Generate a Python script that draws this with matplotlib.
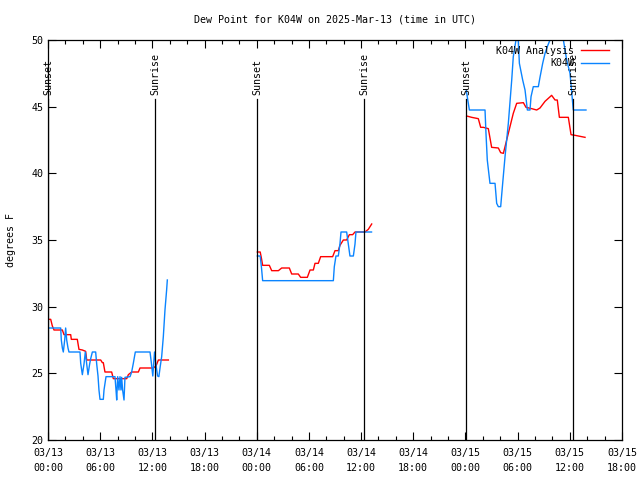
import matplotlib
matplotlib.use("Agg")
import matplotlib.pyplot as plt
import numpy as np
from matplotlib.lines import Line2D
from matplotlib.ticker import MultipleLocator

nan = np.nan

# hours since 2025-03-13 00:00 UTC; nan separates the daily segments
obs_hours = [
    0.0, 1.46, 1.53, 1.65, 1.76, 1.92, 2.03, 2.15, 2.3, 2.41, 3.68, 3.76, 3.95, 4.14, 4.29,
    4.45, 4.6, 4.79, 4.91, 5.1, 5.48, 5.6, 5.75, 5.86, 5.98, 6.36, 6.44, 6.67, 7.7, 7.82,
    7.9, 8.01, 8.16, 8.28, 8.39, 8.47, 8.58, 8.74, 8.85, 9.43, 9.62, 9.81, 9.93, 10.04,
    11.73, 11.9, 12.05, 12.25, 12.4, 12.6, 12.75, 12.9, 13.07, 13.26, 13.45, 13.64, 13.72,
    nan,
    24.07, 24.4, 24.55, 24.68, 32.81, 32.92, 33.11, 33.38, 33.57, 33.69, 34.34, 34.53,
    34.72, 35.11, 35.3, 35.41, 37.2,
    nan,
    48.1, 48.45, 50.25, 50.36, 50.51, 50.82, 51.4, 51.59, 51.78, 52.05, 52.28, 52.55,
    52.93, 53.32, 53.5, 53.81, 54.0, 54.2, 54.58, 54.85, 55.12, 55.42, 55.54, 55.8,
    56.38, 56.57, 56.88, 57.15, 57.41, 57.72, 58.3, 58.87, 59.26, 59.64, 60.02, 60.4,
    61.86,
]
obs_dewpt = [
    28.4, 28.4, 27.5, 26.9, 26.6, 27.5, 28.4, 27.5, 26.9, 26.6, 26.6, 25.75, 24.9, 25.7, 26.6,
    25.7, 24.9, 25.7, 26.1, 26.6, 26.6, 25.7, 24.8, 23.75, 23.05, 23.05, 23.75, 24.75, 24.75, 23.75,
    23.0, 24.75, 23.75, 24.75, 23.75, 24.7, 23.75, 23.0, 24.7, 24.75, 25.1, 25.75, 26.2, 26.6,
    26.6, 25.7, 24.8, 26.6, 25.7, 24.8, 24.75, 25.5, 26.25, 27.75, 29.75, 31.25, 32.0,
    nan,
    33.8, 33.8, 32.9, 31.95, 31.95, 33.0, 33.8, 33.8, 34.7, 35.6, 35.6, 34.7,
    33.8, 33.8, 34.7, 35.6, 35.6,
    nan,
    46.2, 44.75, 44.75, 43.0, 41.0, 39.25, 39.25, 37.75, 37.5, 37.5, 39.25, 41.25,
    43.75, 47.0, 48.75, 50.0, 51.0, 48.25, 47.0, 46.25, 44.75, 44.75, 45.75, 46.5,
    46.5, 47.2, 48.25, 49.0, 49.5, 50.0, 51.0, 50.0, 50.0, 48.5, 47.5, 44.75,
    44.75,
]

ana_hours = [
    0.0, 0.31, 0.5, 0.69, 1.65, 1.84, 2.61, 2.68, 3.37, 3.56, 3.95, 4.33, 4.45, 6.06,
    6.25, 6.36, 6.55, 7.32, 7.51, 9.05, 9.24, 9.62, 10.39, 10.58, 12.11, 12.42, 12.69, 13.84,
    nan,
    24.07, 24.4, 24.55, 24.68, 25.45, 25.72, 26.49, 26.87, 27.75, 28.02, 28.78, 29.05,
    29.82, 30.13, 30.51, 30.7, 31.08, 31.35, 32.73, 33.0, 33.38, 33.57, 33.96, 34.34,
    34.65, 35.03, 35.3, 36.45, 36.83, 37.22,
    nan,
    48.14, 48.71, 49.48, 49.75, 50.06, 50.63, 51.01, 51.78, 52.05, 52.36, 52.74, 53.12,
    53.5, 53.89, 54.66, 54.96, 55.62, 56.19, 56.57, 57.15, 57.91, 58.3, 58.56, 58.8,
    59.83, 60.14, 60.6, 61.75,
]
ana_dewpt = [
    29.05, 29.05, 28.55, 28.25, 28.25, 27.9, 27.9, 27.55, 27.55, 26.8, 26.75, 26.65, 26.0, 26.0,
    25.8, 25.8, 25.1, 25.1, 24.6, 24.6, 24.9, 25.1, 25.1, 25.4, 25.4, 25.55, 26.0, 26.0,
    nan,
    34.1, 34.1, 33.6, 33.1, 33.1, 32.7, 32.7, 32.9, 32.9, 32.45, 32.45, 32.2,
    32.2, 32.75, 32.75, 33.25, 33.25, 33.75, 33.75, 34.2, 34.2, 34.6, 35.0, 35.0,
    35.4, 35.4, 35.6, 35.6, 35.8, 36.2,
    nan,
    44.3, 44.2, 44.1, 43.45, 43.45, 43.35, 41.95, 41.9, 41.55, 41.5, 42.5, 43.5,
    44.5, 45.25, 45.3, 44.95, 44.85, 44.75, 44.9, 45.4, 45.85, 45.5, 45.5, 44.2,
    44.2, 42.9, 42.85, 42.7,
]

sun_hours = [0.0, 12.33, 24.03, 36.33, 48.06, 60.37]
sun_labels = ["Sunset", "Sunrise", "Sunset", "Sunrise", "Sunset", "Sunrise"]

tick_hours = list(range(0, 67, 6))
tick_labels = [
    "03/13\n00:00", "03/13\n06:00", "03/13\n12:00", "03/13\n18:00",
    "03/14\n00:00", "03/14\n06:00", "03/14\n12:00", "03/14\n18:00",
    "03/15\n00:00", "03/15\n06:00", "03/15\n12:00", "03/15\n18:00",
]

FONT = "DejaVu Sans Mono"
FS = 7.2
RED = "#ff0000"
BLUE = "#0a84ff"

plt.rcParams["font.family"] = FONT
plt.rcParams["font.size"] = FS

fig = plt.figure(figsize=(6.4, 4.8), dpi=100)
ax = fig.add_axes([48 / 640, 40 / 480, 574 / 640, 400 / 480])

ax.plot(ana_hours, ana_dewpt, color=RED, linewidth=1.0)
ax.plot(obs_hours, obs_dewpt, color=BLUE, linewidth=1.0)

for h, lab in zip(sun_hours, sun_labels):
    ax.plot([h, h], [20, 45.55], color="black", linewidth=0.9)
    ax.text(h, 45.85, lab, rotation=90, ha="center", va="bottom", fontsize=FS)

ax.set_xlim(0, 66)
ax.set_ylim(20, 50)
ax.set_xticks(tick_hours)
ax.set_xticklabels(tick_labels, linespacing=1.6)
ax.xaxis.set_minor_locator(MultipleLocator(2))
ax.set_yticks(range(20, 51, 5))
ax.tick_params(which="both", direction="in", top=True, right=True, width=0.8)
ax.tick_params(which="major", length=6)
ax.tick_params(which="minor", length=3)
ax.tick_params(axis="x", pad=6)
for s in ax.spines.values():
    s.set_linewidth(0.9)

ax.set_ylabel("degrees F")
ax.yaxis.set_label_coords(-32 / 574, 0.5)
fig.text(335 / 640, 1 - 20 / 480, "Dew Point for K04W on 2025-Mar-13 (time in UTC)",
         ha="center", va="center", fontsize=FS)

handles = [Line2D([], [], color=RED, linewidth=1.0), Line2D([], [], color=BLUE, linewidth=1.0)]
ax.legend(handles, ["K04W Analysis", "K04W"], loc="upper right", frameon=False,
          markerfirst=False, handlelength=2.8, handletextpad=0.7, labelspacing=0.25,
          borderaxespad=0.0, borderpad=0.0, bbox_to_anchor=(0.978, 0.985), fontsize=FS)

fig.savefig("out.png", dpi=100)
